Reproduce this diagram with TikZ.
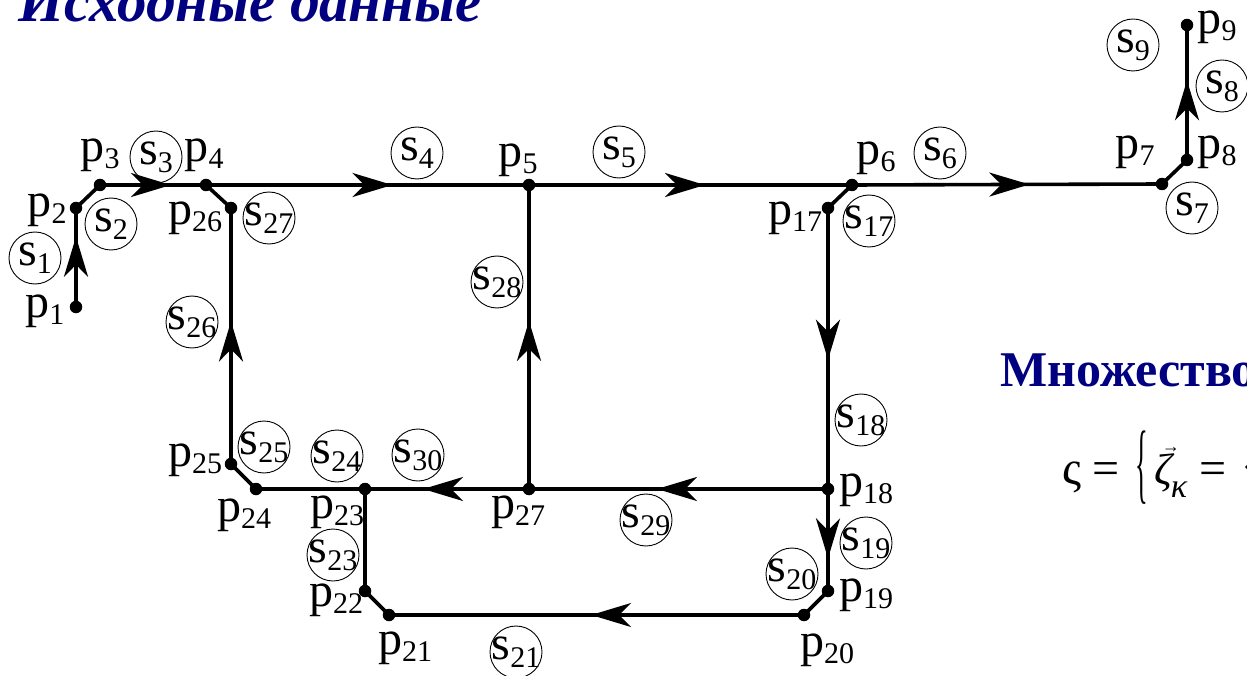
\documentclass[tikz,border=0pt]{standalone}
\usepackage{fontspec}
\setmainfont{Liberation Serif}
\usetikzlibrary{arrows.meta,decorations.markings}
\definecolor{navy}{RGB}{0,0,128}
\newcommand\psub[1]{\raisebox{-7pt}{\fontsize{30}{30}\selectfont #1}}
\newcommand\ssub[1]{\raisebox{-8pt}{\fontsize{30}{30}\selectfont #1}}
\newcommand\plabel[1]{p\psub{#1}}
\newcommand\slabel[1]{\makebox[0pt]{s\ssub{#1}}}
\newcommand\bigbrace{\raisebox{-8.6pt}{\scalebox{0.55}[1.85]{\{}}}
\begin{document}
\begin{tikzpicture}[x=1pt,y=-1pt,
  font=\fontsize{48}{52}\selectfont,
  pt/.style={circle,fill=black,inner sep=0pt,minimum size=12.5pt},
  edge/.style={line width=3.6pt},
  seg/.style={circle,draw,line width=0.9pt,inner sep=0pt,minimum size=52pt},
  plab/.style={inner sep=0pt},
  arr/.style={postaction={decorate},decoration={markings,
     mark=at position #1 with {\arrow{Stealth[length=40pt,width=24pt,inset=12pt]}}}}
]
\useasboundingbox (0,0) rectangle (1247,676);

% title and side texts
\node[anchor=base west,inner sep=0pt,text=navy,font=\fontsize{59}{62}\selectfont\bfseries\itshape] (title) at (18,22) {Исходные данные};
\node[anchor=base west,inner sep=0pt,text=navy,font=\fontsize{50}{54}\selectfont\bfseries] (mnozh) at (1000,386) {Множество};
\node[anchor=base west,inner sep=0pt] (formula) at (1062,484)
  {ς\hspace{11pt}=\hspace{16pt}\bigbrace\hspace{7pt}\makebox[0pt][l]{\hspace{7pt}\raisebox{32pt}{\fontsize{18}{18}\selectfont →}}{\fontsize{44}{44}\selectfont\itshape ζ}\hspace{-2pt}\raisebox{-13pt}{\fontsize{34}{34}\selectfont\itshape κ}\hspace{12pt}=\hspace{17pt}\bigbrace};

% points
\node[pt] (p1) at (76,307) {};
\node[pt] (p2) at (76,208) {};
\node[pt] (p3) at (100,185) {};
\node[pt] (p4) at (206,185) {};
\node[pt] (p26) at (231,208) {};
\node[pt] (p5) at (529,185) {};
\node[pt] (p6) at (852,185) {};
\node[pt] (p17) at (828,208) {};
\node[pt] (p7) at (1162,184) {};
\node[pt] (p8) at (1187,160) {};
\node[pt] (p9) at (1187,25) {};
\node[pt] (p25) at (231,464) {};
\node[pt] (p24) at (256,489) {};
\node[pt] (p23) at (365,489) {};
\node[pt] (p27) at (529,489) {};
\node[pt] (p18) at (828,489) {};
\node[pt] (p19) at (828,591) {};
\node[pt] (p20) at (804,615) {};
\node[pt] (p22) at (365,591) {};
\node[pt] (p21) at (389,615) {};

% edges
\draw[edge,arr=0.71] (p1.center) -- (p2.center);
\draw[edge] (p2.center) -- (p3.center);
\draw[edge,arr=0.67] (p3.center) -- (p4.center);
\draw[edge,arr=0.577] (p4.center) -- (p5.center);
\draw[edge,arr=0.545] (p5.center) -- (p6.center);
\draw[edge,arr=0.572] (p6.center) -- (p7.center);
\draw[edge] (p7.center) -- (p8.center);
\draw[edge,arr=0.59] (p8.center) -- (p9.center);
\draw[edge] (p6.center) -- (p17.center);
\draw[edge,arr=0.54] (p17.center) -- (p18.center);
\draw[edge,arr=0.68] (p18.center) -- (p19.center);
\draw[edge] (p19.center) -- (p20.center);
\draw[edge,arr=0.513] (p20.center) -- (p21.center);
\draw[edge] (p21.center) -- (p22.center);
\draw[edge] (p22.center) -- (p23.center);
\draw[edge] (p23.center) -- (p24.center);
\draw[edge] (p24.center) -- (p25.center);
\draw[edge,arr=0.557] (p25.center) -- (p26.center);
\draw[edge] (p26.center) -- (p4.center);
\draw[edge,arr=0.553] (p27.center) -- (p5.center);
\draw[edge,arr=0.572] (p18.center) -- (p27.center);
\draw[edge,arr=0.646] (p27.center) -- (p23.center);

% point labels
\node[plab] (lp1) at (45,311) {\plabel{1}};
\node[plab] (lp2) at (47,210) {\plabel{2}};
\node[plab] (lp3) at (100,155) {\plabel{3}};
\node[plab] (lp4) at (204,155) {\plabel{4}};
\node[plab] (lp26) at (195,218) {\plabel{26}};
\node[plab] (lp5) at (518,160) {\plabel{5}};
\node[plab] (lp6) at (876,158) {\plabel{6}};
\node[plab] (lp17) at (795,218) {\plabel{17}};
\node[plab] (lp7) at (1135,152) {\plabel{7}};
\node[plab] (lp8) at (1217,152) {\plabel{8}};
\node[plab] (lp9) at (1217,27) {\plabel{9}};
\node[plab] (lp25) at (195,460) {\plabel{25}};
\node[plab] (lp24) at (244,515) {\plabel{24}};
\node[plab] (lp23) at (337,512) {\plabel{23}};
\node[plab] (lp22) at (336,600) {\plabel{22}};
\node[plab] (lp21) at (405,648) {\plabel{21}};
\node[plab] (lp27) at (518,512) {\plabel{27}};
\node[plab] (lp18) at (866,490) {\plabel{18}};
\node[plab] (lp19) at (866,595) {\plabel{19}};
\node[plab] (lp20) at (827,650) {\plabel{20}};

% segment labels
\node[seg] (s1) at (35,258) {\slabel{1}};
\node[seg] (s2) at (111,224) {\slabel{2}};
\node[seg] (s3) at (156,157) {\slabel{3}};
\node[seg] (s4) at (417,153) {\slabel{4}};
\node[seg] (s5) at (619,152) {\slabel{5}};
\node[seg] (s6) at (940,153) {\slabel{6}};
\node[seg] (s7) at (1192,208) {\slabel{7}};
\node[seg] (s8) at (1222,86) {\slabel{8}};
\node[seg] (s9) at (1133,45) {\slabel{9}};
\node[seg] (s17) at (869,221) {\slabel{17}};
\node[seg] (s18) at (861,420) {\slabel{18}};
\node[seg] (s19) at (866,543) {\slabel{19}};
\node[seg] (s20) at (792,574) {\slabel{20}};
\node[seg] (s21) at (516,652) {\slabel{21}};
\node[seg] (s23) at (333,555) {\slabel{23}};
\node[seg] (s24) at (337,456) {\slabel{24}};
\node[seg] (s25) at (264,447) {\slabel{25}};
\node[seg] (s26) at (192,322) {\slabel{26}};
\node[seg] (s27) at (269,218) {\slabel{27}};
\node[seg] (s28) at (497,282) {\slabel{28}};
\node[seg] (s29) at (646,520) {\slabel{29}};
\node[seg] (s30) at (418,455) {\slabel{30}};
\end{tikzpicture}
\end{document}
